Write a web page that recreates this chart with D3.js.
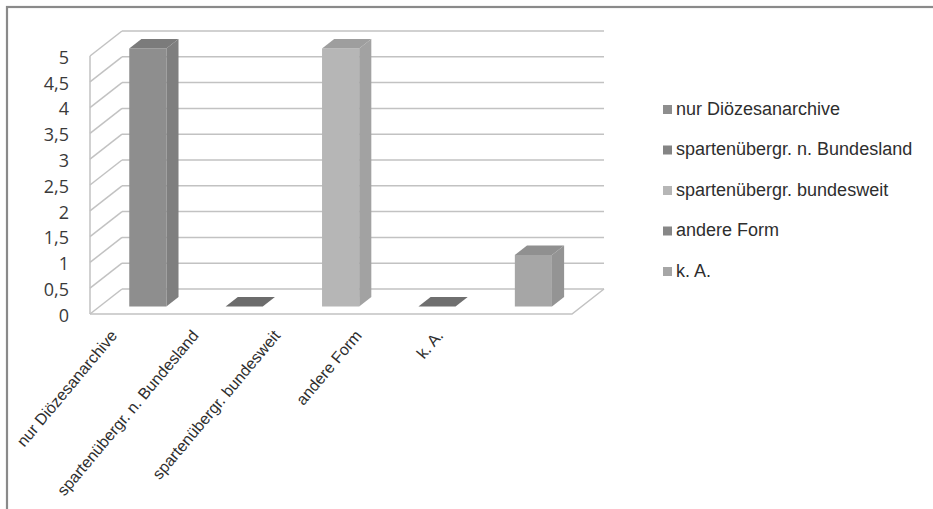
<!DOCTYPE html>
<html>
<head>
<meta charset="utf-8">
<script src="https://cdn.jsdelivr.net/npm/d3@7"></script>
<style>
  html, body { margin: 0; padding: 0; background: #ffffff; }
  svg { display: block; }
</style>
</head>
<body>
<svg id="chart" width="933" height="509"></svg>
<script>
// Archive forms and how many answers named each one
const categories = [
  "nur Diözesanarchive",
  "spartenübergr. n. Bundesland",
  "spartenübergr. bundesweit",
  "andere Form",
  "k. A."
];
const values = [5, 0, 5, 0, 1];
const colors = ["#8e8e8e", "#848484", "#b6b6b6", "#878787", "#a6a6a6"];
const yTicks = [0, 0.5, 1, 1.5, 2, 2.5, 3, 3.5, 4, 4.5, 5];
const yTickLabels = ["0", "0,5", "1", "1,5", "2", "2,5", "3", "3,5", "4", "4,5", "5"];

const svg = d3.select("#chart");

// outer chart frame (only left and top edges fall inside the view)
svg.append("rect")
  .attr("x", 7).attr("y", 7)
  .attr("width", 1000).attr("height", 600)
  .attr("fill", "none")
  .attr("stroke", "#8a8a8a")
  .attr("stroke-width", 2.2);

// pseudo-3D projection: the floor runs back by (DX, DY)
const DX = 32, DY = -25;
const x = d3.scaleBand().domain(categories).range([90, 572])
  .paddingInner(0.615).paddingOuter(0.3075);
const y = d3.scaleLinear().domain([0, 5]).range([314, 56]);

const grid = svg.append("g")
  .attr("fill", "none")
  .attr("stroke", "#c2c2c2")
  .attr("stroke-width", 1.5);

// side wall: vertical front edge and diagonals per tick
grid.append("line")
  .attr("x1", 90).attr("x2", 90)
  .attr("y1", y(5)).attr("y2", y(0));
yTicks.forEach(t => {
  grid.append("line")
    .attr("x1", 90).attr("y1", y(t))
    .attr("x2", 90 + DX).attr("y2", y(t) + DY);
  // back wall gridline
  grid.append("line")
    .attr("x1", 90 + DX).attr("y1", y(t) + DY)
    .attr("x2", 572 + DX).attr("y2", y(t) + DY);
});
// floor front edge and right edge
grid.append("path")
  .attr("d", d3.line()([[90, y(0)], [572, y(0)], [572 + DX, y(0) + DY]]));

// y axis labels
svg.append("g")
  .selectAll("text")
  .data(yTicks)
  .join("text")
  .attr("x", 69)
  .attr("y", (d, i) => y(d) + 3)
  .attr("text-anchor", "end")
  .attr("dominant-baseline", "middle")
  .attr("font-family", "'Open Sans', sans-serif")
  .attr("font-size", 18)
  .attr("fill", "#3a3a3a")
  .text((d, i) => yTickLabels[i]);

// 3D bars: front face, right side and top
const f0 = 0.3, f1 = 0.68;
const ox = f0 * DX, oy = f0 * DY;
const dx = (f1 - f0) * DX, dy = (f1 - f0) * DY;

const bars = svg.append("g")
  .selectAll("g")
  .data(categories.map((c, i) => ({ c, v: values[i], col: colors[i] })))
  .join("g");

bars.each(function (d) {
  const g = d3.select(this);
  const x0 = x(d.c) + ox, x1 = x0 + x.bandwidth();
  const yt = y(d.v) + oy, yb = y(0) + oy;
  const base = d3.color(d.col);
  if (d.v > 0) {
    g.append("path")
      .attr("d", d3.line()([[x1, yt], [x1 + dx, yt + dy], [x1 + dx, yb + dy], [x1, yb]]) + "Z")
      .attr("fill", base.darker(0.32));
    g.append("rect")
      .attr("x", x0).attr("y", yt)
      .attr("width", x1 - x0).attr("height", yb - yt)
      .attr("fill", base);
  }
  g.append("path")
    .attr("d", d3.line()([[x0, yt], [x0 + dx, yt + dy], [x1 + dx, yt + dy], [x1, yt]]) + "Z")
    .attr("fill", d.v > 0 ? base.darker(0.4) : base.darker(0.55));
});

// rotated category labels
const xl = d3.scalePoint().domain(categories).range([118, 444]);
svg.append("g")
  .selectAll("text")
  .data(categories)
  .join("text")
  .attr("transform", d => `translate(${xl(d)},${336}) rotate(-50)`)
  .attr("text-anchor", "end")
  .attr("font-family", "'Liberation Sans', Arial, sans-serif")
  .attr("font-size", 16)
  .attr("fill", "#2e2e2e")
  .text(d => d);

// legend
const legend = svg.append("g")
  .selectAll("g")
  .data(categories)
  .join("g")
  .attr("transform", (d, i) => `translate(663,${110 + i * 40.5})`);
legend.append("rect")
  .attr("x", 0).attr("y", -5)
  .attr("width", 9).attr("height", 9)
  .attr("fill", (d, i) => colors[i]);
legend.append("text")
  .attr("x", 13).attr("y", 0)
  .attr("dominant-baseline", "middle")
  .attr("font-family", "'Liberation Sans', Arial, sans-serif")
  .attr("font-size", 18)
  .attr("fill", "#2e2e2e")
  .text(d => d);
</script>
</body>
</html>
